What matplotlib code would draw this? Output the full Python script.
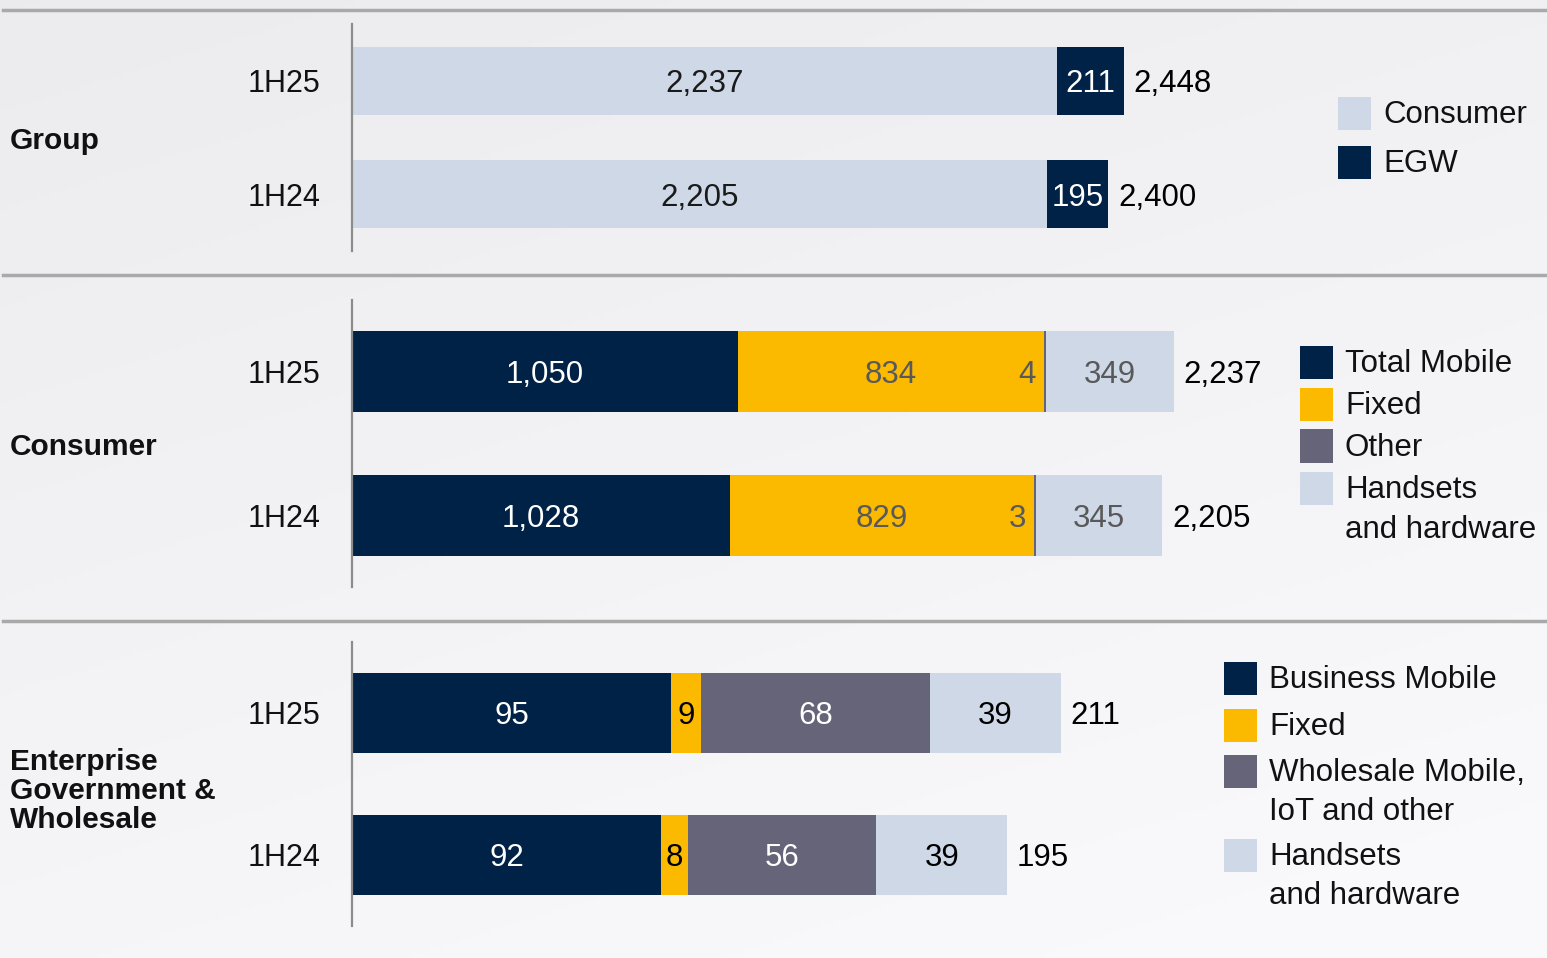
import matplotlib.pyplot as plt
import numpy as np
from matplotlib.patches import Rectangle
from matplotlib.lines import Line2D

plt.rcParams['font.family'] = ['Liberation Sans', 'DejaVu Sans']

# Daten
periods = ['1H25', '1H24']

group_consumer = [2237, 2205]
group_egw = [211, 195]
group_total = [2448, 2400]

cons_mobile = [1050, 1028]
cons_fixed = [834, 829]
cons_other = [4, 3]
cons_handsets = [349, 345]
cons_total = [2237, 2205]

egw_mobile = [95, 92]
egw_fixed = [9, 8]
egw_wholesale = [68, 56]
egw_handsets = [39, 39]
egw_total = [211, 195]

panel_names = ['Group', 'Consumer', 'Enterprise\nGovernment &\nWholesale']
group_legend = ['Consumer', 'EGW']
cons_legend = ['Total Mobile', 'Fixed', 'Other', 'Handsets\nand hardware']
egw_legend = ['Business Mobile', 'Fixed', 'Wholesale Mobile,\nIoT and other', 'Handsets\nand hardware']

# Farben
NAVY = '#012247'
YELLOW = '#FBBA00'
GREY = '#666478'
LIGHT = '#CFD8E6'
DARKTXT = '#595959'

W, H = 1547, 958
fig = plt.figure(figsize=(W / 100, H / 100), dpi=100)


def px_axes(left, top, right, bottom, **kw):
    return fig.add_axes([left / W, 1 - bottom / H, (right - left) / W, (bottom - top) / H], **kw)


# Hintergrund mit leichtem Verlauf
bg = fig.add_axes([0, 0, 1, 1], zorder=-10)
yy, xx = np.mgrid[0:1:200j, 0:1:300j]
shade = 0.925 + 0.055 * np.clip(0.7 * yy + 0.35 * xx, 0, 1)
img = np.dstack([shade, shade, np.clip(shade + 0.01, 0, 1)])
bg.imshow(img, aspect='auto', extent=[0, 1, 0, 1])
bg.axis('off')

# Trennlinien
for ysep in (10, 275, 621):
    fig.add_artist(Line2D([3 / W, 1], [1 - ysep / H] * 2, color='#A9A9A9', lw=2.5,
                          transform=fig.transFigure))


def draw_panel(top, bottom, scale, height, segments, totals):
    ax = px_axes(352, top, W, bottom)
    ax.set_xlim(0, (W - 352) / scale)
    ax.set_ylim(1.5, -0.5)
    ax.patch.set_visible(False)
    y = np.arange(len(periods))
    left = np.zeros(len(periods))
    for values, color, txt_color, where in segments:
        vals = np.array(values, dtype=float)
        ax.barh(y, vals, left=left, height=height, color=color, linewidth=0)
        for i, v in enumerate(values):
            if where == 'end':
                ax.annotate(f'{v:,}', xy=(left[i] + v, y[i]), xytext=(-7, 0),
                            textcoords='offset points', ha='right', va='center_baseline',
                            fontsize=22.5, color=txt_color)
            else:
                ax.text(left[i] + v / 2, y[i], f'{v:,}', ha='center', va='center_baseline',
                        fontsize=22.5, color=txt_color)
        left += vals
    for i, t in enumerate(totals):
        ax.annotate(f'{t:,}', xy=(left[i], y[i]), xytext=(7, 0), textcoords='offset points',
                    ha='left', va='center_baseline', fontsize=22.5, color='black')
    for s in ('top', 'right', 'bottom'):
        ax.spines[s].set_visible(False)
    ax.spines['left'].set_color('#8C8C8C')
    ax.spines['left'].set_linewidth(1.6)
    ax.set_xticks([])
    ax.set_yticks(y, periods)
    ax.tick_params(axis='y', length=0, pad=23, labelsize=22, labelcolor='#111111')
    for lab in ax.get_yticklabels():
        lab.set_verticalalignment('center_baseline')
    return ax


draw_panel(24, 251, 0.3152, 0.6,
           [(group_consumer, LIGHT, '#1a1a1a', 'center'),
            (group_egw, NAVY, 'white', 'center')],
           group_total)

draw_panel(300, 587, 0.3675, 0.5625,
           [(cons_mobile, NAVY, 'white', 'center'),
            (cons_fixed, YELLOW, DARKTXT, 'center'),
            (cons_other, GREY, DARKTXT, 'end'),
            (cons_handsets, LIGHT, DARKTXT, 'center')],
           cons_total)

draw_panel(642, 926, 3.36, 0.56,
           [(egw_mobile, NAVY, 'white', 'center'),
            (egw_fixed, YELLOW, 'black', 'center'),
            (egw_wholesale, GREY, 'white', 'center'),
            (egw_handsets, LIGHT, 'black', 'center')],
           egw_total)

# Segment-Namen links
for name, yc in zip(panel_names, (141, 447, 791)):
    fig.text(10 / W, 1 - yc / H, name, fontsize=21.5, fontweight='bold', va='center',
             ha='left', linespacing=1.05, color='#111111')


def draw_legend(x, centers, labels, colors, step):
    for c, lab, col in zip(centers, labels, colors):
        fig.add_artist(Rectangle((x / W, 1 - (c + 16.5) / H), 33 / W, 33 / H,
                                 transform=fig.transFigure, color=col, lw=0))
        for k, line in enumerate(lab.split('\n')):
            fig.text((x + 45) / W, 1 - (c + 2 + k * step) / H, line, fontsize=22.5,
                     va='center', ha='left', color='#111111')


draw_legend(1338, [113, 162], group_legend, [LIGHT, NAVY], 40)
draw_legend(1300, [362, 404, 446, 488], cons_legend, [NAVY, YELLOW, GREY, LIGHT], 40)
draw_legend(1224, [678, 725, 771, 855], egw_legend, [NAVY, YELLOW, GREY, LIGHT], 39)

fig.savefig('out.png', dpi=100)
